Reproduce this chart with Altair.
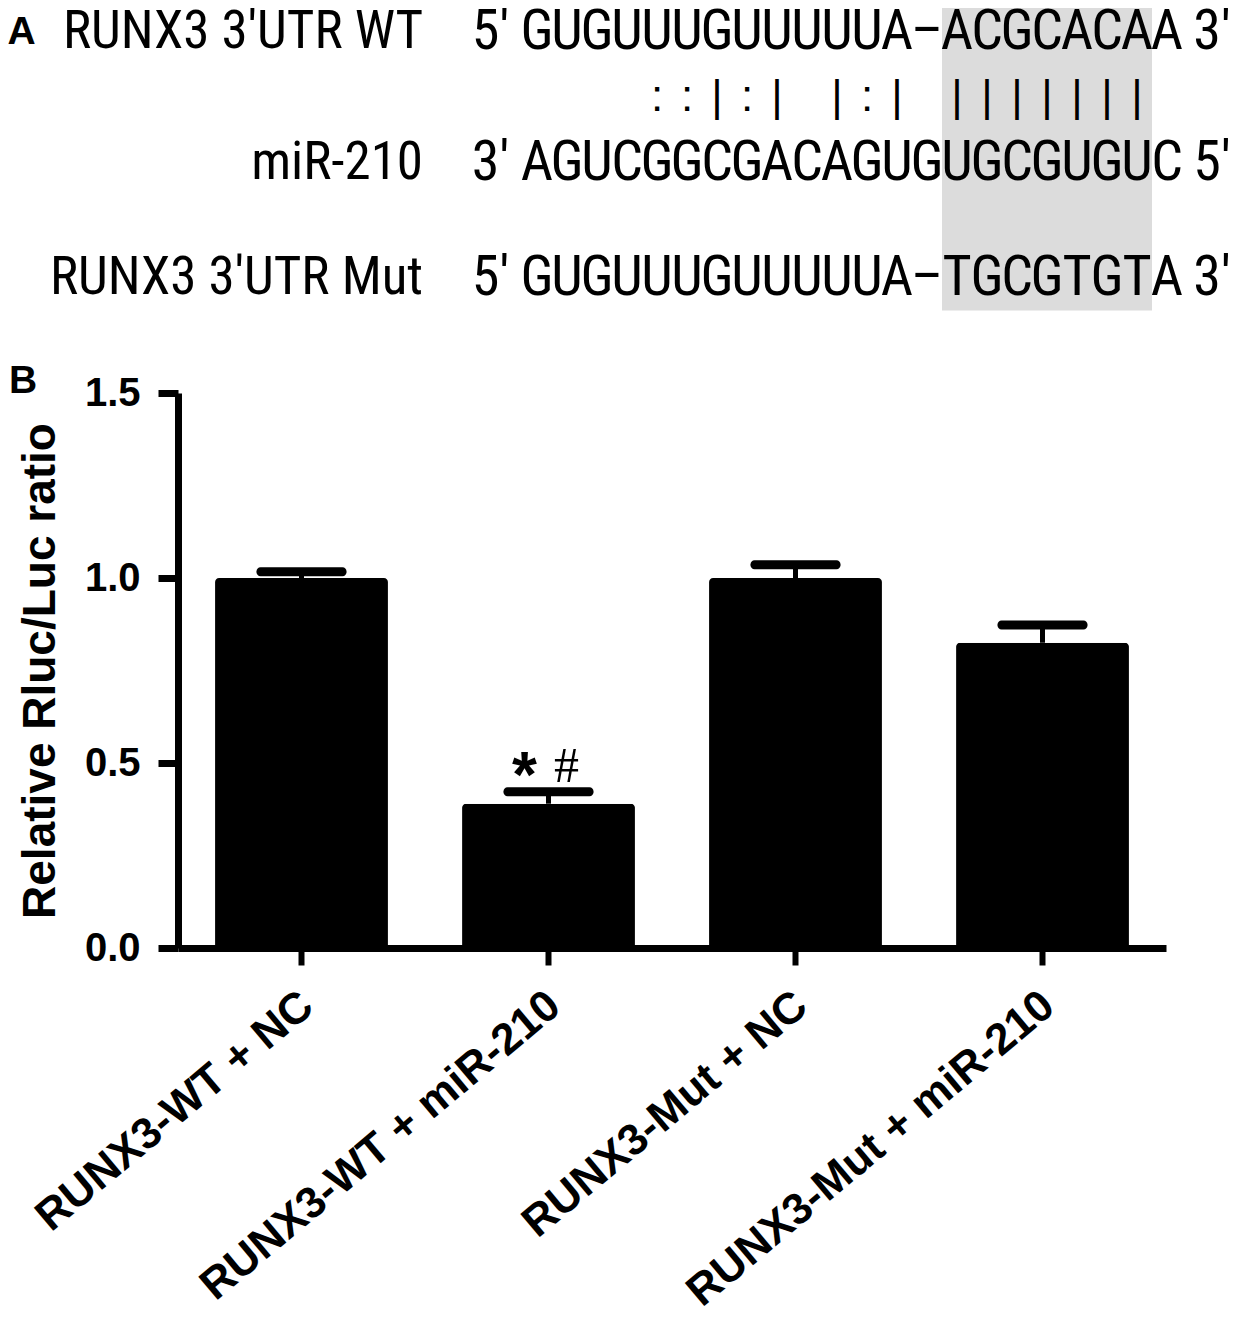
import altair as alt
import pandas as pd

# ---------------- Panel B data ----------------
groups = ["RUNX3-WT + NC", "RUNX3-WT + miR-210", "RUNX3-Mut + NC", "RUNX3-Mut + miR-210"]
means = [1.00, 0.39, 1.00, 0.825]
sems = [0.017, 0.032, 0.036, 0.048]
sig_star = ["", "*", "", ""]
sig_hash = ["", "#", "", ""]
y_ticks = [0.0, 0.5, 1.0, 1.5]
y_title = "Relative Rluc/Luc ratio"

# ---------------- Panel A data ----------------
row_labels = ["RUNX3 3′UTR WT", "miR-210", "RUNX3 3′UTR Mut"]
seq_wt = "GUGUUUGUUUUUA–ACGCACAA"
seq_mir = "AGUCGGCGACAGUGUGCGUGUC"
seq_mut = "GUGUUUGUUUUUA–TGCGTGTA"
pairing = "    ::|:| |:| ||||||| "
ends_left = ["5′", "3′", "5′"]
ends_right = ["3′", "5′", "3′"]
seed_first, seed_last = 15, 21          # seed-region columns (highlighted)
panel_letters = ["A", "B"]

# ---------------- layout (not data) ----------------
ROW_Y = [0, 2, 3.75]     # row slots for WT, miR, Mut
PAIR_Y = 1
COL_LEFT_END = -0.55
COL_RIGHT_END = 23.5
COL_LABEL = -2.8
LETTER_POS = [(-16.65, 0.0), (-16.6, 5.33)]

NARROW = "Liberation Sans Narrow, Roboto Condensed, DejaVu Sans Condensed, Liberation Sans"
SANS = "Liberation Sans, Arial, sans-serif"

seq_rows, end_rows, label_rows = [], [], []
for lab, seq, le, re_, r in zip(row_labels, [seq_wt, seq_mir, seq_mut], ends_left, ends_right, ROW_Y):
    for i, ch in enumerate(seq):
        seq_rows.append({"col": i + 1, "row": r, "ch": ch})
    end_rows.append({"col": COL_LEFT_END, "row": r, "ch": le})
    end_rows.append({"col": COL_RIGHT_END, "row": r, "ch": re_})
    label_rows.append({"col": COL_LABEL, "row": r, "ch": lab})
pair_rows = [{"col": i + 1, "row": PAIR_Y, "ch": ch} for i, ch in enumerate(pairing) if ch.strip()]
letter_rows = [{"col": c, "row": r, "ch": t} for t, (c, r) in zip(panel_letters, LETTER_POS)]
box_rows = [{"c1": seed_first - 0.5, "c2": seed_last + 0.5, "r1": -0.4, "r2": 4.25}]

xA_scale = alt.Scale(domain=[0, 30], range=[329, 1229], nice=False, zero=False)
yA_scale = alt.Scale(domain=[0, 4], range=[-361, -99], nice=False, zero=False)


def xa(field="col"):
    return alt.X(f"{field}:Q", scale=xA_scale, axis=None)


def ya(field="row"):
    return alt.Y(f"{field}:Q", scale=yA_scale, axis=None)


box = alt.Chart(pd.DataFrame(box_rows)).mark_rect(color="#dcdcdc").encode(
    x=xa("c1"), x2="c2", y=ya("r1"), y2="r2")
seq_txt = alt.Chart(pd.DataFrame(seq_rows + end_rows)).mark_text(
    font=NARROW, fontSize=56, align="center", baseline="middle", color="black").encode(
    x=xa(), y=ya(), text="ch:N")
pair_txt = alt.Chart(pd.DataFrame(pair_rows)).mark_text(
    font=SANS, fontSize=44, align="center", baseline="middle", color="black").encode(
    x=xa(), y=ya(), text="ch:N")
label_txt = alt.Chart(pd.DataFrame(label_rows)).mark_text(
    font=NARROW, fontSize=53, align="right", baseline="middle", color="black").encode(
    x=xa(), y=ya(), text="ch:N")
letter_txt = alt.Chart(pd.DataFrame(letter_rows)).mark_text(
    font=SANS, fontSize=39, fontWeight="bold", align="left", baseline="middle", color="black").encode(
    x=xa(), y=ya(), text="ch:N")

panelA = alt.layer(box, seq_txt, pair_txt, label_txt, letter_txt)

# ---------------- Panel B ----------------
dfB = pd.DataFrame({"group": groups, "mean": means, "sem": sems, "star": sig_star, "hash": sig_hash})
base = alt.Chart(dfB).transform_calculate(upper="datum.mean + datum.sem")

xB = alt.X("group:N", sort=groups, title=None,
           scale=alt.Scale(paddingInner=0.3, paddingOuter=0.15),
           axis=alt.Axis(labelAngle=-40, labelAlign="right", labelBaseline="top",
                         labelFontSize=44, labelFont=SANS, labelFontWeight="bold",
                         labelPadding=18, labelOffset=-8, labelLimit=1000, tickSize=17, tickWidth=6,
                         domainWidth=7, labelColor="black", tickColor="black", domainColor="black"))
yScale = alt.Scale(domain=[0, 1.5], nice=False)
yAxis = alt.Axis(values=y_ticks, format=".1f", labelFontSize=40, labelFont=SANS,
                 labelFontWeight="bold", labelPadding=18, tickSize=20, tickWidth=7,
                 domainWidth=7, titleFontSize=46, titleFont=SANS, titleFontWeight="bold",
                 titlePadding=20, labelColor="black", tickColor="black", domainColor="black",
                 titleColor="black", grid=False)


def yb(field):
    return alt.Y(f"{field}:Q", scale=yScale, axis=yAxis, title=y_title)


bars = base.mark_bar(color="black", cornerRadiusTopLeft=4, cornerRadiusTopRight=4).encode(
    x=xB, y=yb("mean"))
err = base.mark_rule(color="black", strokeWidth=5).encode(x=xB, y=yb("mean"), y2="upper:Q")
cap = base.mark_tick(color="black", opacity=1, thickness=9, size=90, cornerRadius=4,
                     orient="horizontal").encode(x=xB, y=yb("upper"))
star = base.mark_text(font=SANS, fontWeight="bold", fontSize=64, dx=-24, dy=5,
                      baseline="alphabetic", align="center", color="black").encode(
    x=xB, y=yb("upper"), text="star:N")
hsh = base.mark_text(font="Liberation Serif, Times New Roman, serif", fontSize=50, dx=18, dy=-10,
                     baseline="alphabetic", align="center", color="black").encode(
    x=xB, y=yb("upper"), text="hash:N")

panelB = alt.layer(bars, err, cap, star, hsh)

chart = alt.layer(panelB, panelA).resolve_scale(x="independent", y="independent").properties(
    width=988, height=555,
    autosize=alt.AutoSizeParams(type="none"),
    padding={"left": 170, "top": 385, "right": 69, "bottom": 361},
).configure_view(stroke=None)

chart.save("out.html", embed_options={"renderer": "svg", "actions": False})
